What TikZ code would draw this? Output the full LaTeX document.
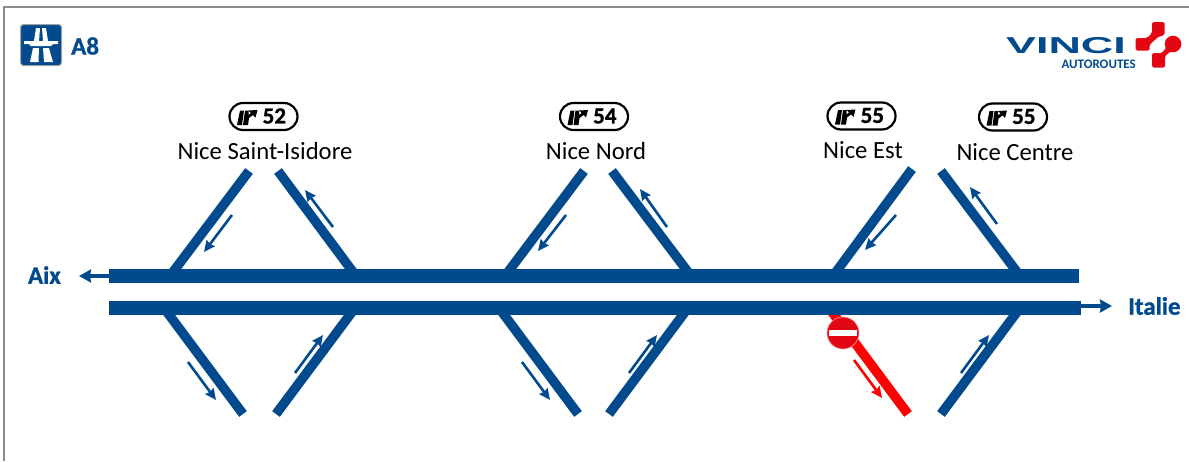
\documentclass[tikz,border=0pt]{standalone}
\usepackage{fontspec}
\setmainfont{Carlito}
\newfontfamily\logofont{Liberation Sans}
\newfontfamily\heavyfont[UprightFont=* Bold,UprightFeatures={FakeBold=1}]{Carlito}
\usetikzlibrary{arrows.meta}
\definecolor{roadblue}{HTML}{004A8D}
\definecolor{signred}{HTML}{E30613}
\definecolor{framegray}{HTML}{8C8C8C}
\tikzset{
  road/.style={draw=none,fill=roadblue},
  ramp/.style={draw=roadblue,line width=9.5pt},
  closedramp/.style={draw=red,line width=9.5pt},
  flow/.style={draw=roadblue,line width=2.6pt,-{Stealth[length=11pt,width=10pt,inset=1pt]}},
  closedflow/.style={draw=red,line width=2.6pt,-{Stealth[length=11pt,width=10pt,inset=1pt]}},
  mainflow/.style={draw=roadblue,line width=3.2pt,-{Stealth[length=12pt,width=13pt,inset=1pt]}},
  badge/.style={draw=black,line width=2.2pt,fill=white,rounded corners=13.5pt,minimum width=68pt,minimum height=27pt,inner sep=0pt},
  place/.style={font=\fontsize{24.7}{25}\selectfont,text=black,inner sep=0pt},
  dest/.style={font=\heavyfont\fontsize{25}{25}\selectfont,text=roadblue,inner sep=0pt},
  exitnum/.style={font=\heavyfont\fontsize{23}{23}\selectfont,text=black,inner sep=0pt},
  pics/exitmark/.style={code={
    \fill[black] (-26.5,8.5) -- (-21.5,8.5) -- (-19.5,-6) -- (-23.5,-6) -- cycle;
    \fill[black] (-20.5,8.5) -- (-15.5,8.5) -- (-14.5,1.5) -- (-10.5,-1.5) -- (-8,1) -- (-6,-6.5) -- (-15,-6) -- (-12.5,-3.5) -- (-15,-1.5) -- (-15,-6) -- (-18.5,-6) -- cycle;
  }}
}
\begin{document}
\begin{tikzpicture}[x=1pt,y=-1pt]
\useasboundingbox (0,0) rectangle (1189,461);
\fill[white] (0,0) rectangle (1189,461);
\draw[framegray,line width=1.6pt] (4,461) -- (4,7) -- (1189,7);

% motorway symbol
\node[draw=framegray!80,line width=1pt,fill=roadblue,rounded corners=3pt,minimum width=41pt,minimum height=41pt,inner sep=0pt] (msign) at (41,45) {};
\fill[white] (36,28) -- (40,28) -- (39,41) -- (34,41) -- cycle;
\fill[white] (42,28) -- (46,28) -- (48,41) -- (43,41) -- cycle;
\fill[white] (24,41) -- (58,41) -- (58,44) -- (53,44) -- (51,46) -- (31,46) -- (29,44) -- (24,44) -- cycle;
\fill[white] (33,48) -- (39,48) -- (38.5,62) -- (30,62) -- cycle;
\fill[white] (43,48) -- (49,48) -- (53,62) -- (44,62) -- cycle;
\node[dest,anchor=west] (aeight) at (71,46) {A8};

% logo
\node[inner sep=0pt,text=roadblue,font=\logofont\bfseries\fontsize{23}{23}\selectfont,xscale=1.95] (vinci) at (1066,46) {VINCI};
\node[inner sep=0pt,text=roadblue,font=\bfseries\fontsize{13}{13}\selectfont,anchor=east] (auto) at (1136,64) {AUTOROUTES};
\fill[signred,rounded corners=1.5pt] (1152,22) -- (1164.5,22) -- (1164.5,35) -- (1158,37) -- (1149.5,45) -- (1149.5,50.5) -- (1135.5,50.5) -- (1135.5,38) -- (1147,38) -- (1152,33) -- cycle;
\fill[signred] (1173,44) circle[radius=8.3];
\fill[signred,rounded corners=1.5pt] (1168,38) -- (1178,50) -- (1170,52) -- (1165,56) -- (1165,67.5) -- (1152,67.5) -- (1152,53) -- (1162,53) -- (1166,48) -- cycle;

% upper ramps (run into the carriageway, which is drawn over them)
\foreach \a/\b/\c/\d in {170/276/249/171, 356/276/278/171, 505/276/584/171, 691/276/612/171, 833/276/912/169, 1020/276/941/171}{
  \draw[ramp] (\a,\b) -- (\c,\d);
}
% lower ramps
\foreach \a/\b/\c/\d in {164/308/243/414, 355/308/276/414, 499/308/578/414, 688/308/609/414, 1020/308/941/414}{
  \draw[ramp] (\a,\b) -- (\c,\d);
}
\draw[closedramp] (829,308) -- (908,414);

% highways
\fill[road] (109,269) rectangle (1079,283);
\fill[road] (109,301) rectangle (1081,315);
\coordinate (hwleft) at (109,276);
\coordinate (hwright) at (1081,306);
\coordinate (aixtip) at (79,276);
\coordinate (itatip) at (1112,306);
\draw[mainflow] (hwleft) -- (aixtip);
\draw[mainflow] (hwright) -- (itatip);
\node[dest,anchor=east] (aix) at (61,275) {Aix};
\node[dest,anchor=west] (italie) at (1128,306) {Italie};

% small flow arrows
\foreach \a/\b/\c/\d in {232/215/204/252, 333/227/305/190, 566/215/538/251, 667/227/640/189, 896/215/865/250, 997/224/970/187, 188/362/216/400, 295/373/323/335, 522/362/550/400, 629/373/657/335, 961/373/989/335}{
  \draw[flow] (\a,\b) -- (\c,\d);
}
\draw[closedflow] (854,360) -- (882,398);

% no-entry sign
\node[circle,draw=signred!40,line width=.6pt,fill=signred,minimum size=32pt,inner sep=0pt] (noentry) at (843,333) {};
\node[fill=white,minimum width=28pt,minimum height=6pt,inner sep=0pt] (noentrybar) at (843,333) {};

% exit badges
\foreach \n/\x/\y/\t in {ba/263.5/116.5/52, bb/594/116.5/54, bc/861.5/116/55, bd/1013/117/55}{
  \node[badge] (\n) at (\x,\y) {};
  \pic at (\n.center) {exitmark};
  \node[exitnum,anchor=west] (\n t) at ([xshift=-1pt,yshift=0.5pt]\n.center) {\t};
}
\node[place] (n1) at (265,151) {Nice Saint-Isidore};
\node[place] (n2) at (596,151) {Nice Nord};
\node[place] (n3) at (863,150) {Nice Est};
\node[place] (n4) at (1015,152) {Nice Centre};
\end{tikzpicture}
\end{document}
